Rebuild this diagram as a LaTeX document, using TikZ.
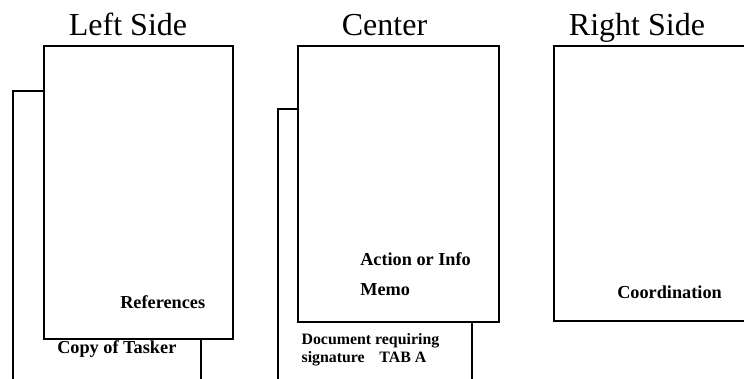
\documentclass[tikz,border=0pt]{standalone}
\usepackage{fontspec}
\setmainfont{Liberation Serif}
\usetikzlibrary{positioning}

\begin{document}
\begin{tikzpicture}[x=1pt,y=1pt,
      every node/.style={inner sep=0pt},
      page/.style={draw,fill=white,line width=1.5pt,anchor=north west},
      heading/.style={font=\fontsize{24}{27}\selectfont,anchor=base},
      tag/.style={font=\fontsize{13.7}{22.5}\selectfont\bfseries,align=left},
      smalltag/.style={font=\fontsize{11.9}{13.5}\selectfont\bfseries,align=left}]
      \clip (0,0) rectangle (558,-284.25);
      % left side: tasker behind references
      \node[page, minimum width=141pt, minimum height=225pt]     (tasker) at (9,-67.5) {};
      \node[page, minimum width=141.75pt, minimum height=219.75pt] (refs)  at (32.25,-33.75) {};
      % center: document behind memo
      \node[page, minimum width=145.5pt, minimum height=225pt]   (doc)  at (207.75,-81) {};
      \node[page, minimum width=150.75pt, minimum height=207pt]  (memo) at (222.75,-33.75) {};
      % right side
      \node[page, minimum width=187.5pt, minimum height=206.25pt] (coord) at (414.75,-33.75) {};
      \node[heading] (lefttitle)   at (96,-26.25)    {Left Side};
      \node[heading] (centertitle) at (288.4,-26.25) {Center};
      \node[heading] (righttitle)  at (477.75,-26.25) {Right Side};
      \node[tag, anchor=base west] (refslabel)   at (90,-231)        {References};
      \node[tag, anchor=base west] (taskerlabel) at (42.75,-264.75)  {Copy of Tasker};
      \node[tag, anchor=north west] (memolabel)  at (270,-189.3)     {Action or Info\\Memo};
      \node[smalltag, anchor=north west] (doclabel) at (226,-250)    {Document requiring\\signature\hspace{8pt} TAB A};
      \node[tag, anchor=base west] (coordlabel)  at (462.75,-223.5)  {Coordination};
    \end{tikzpicture}
\end{document}
